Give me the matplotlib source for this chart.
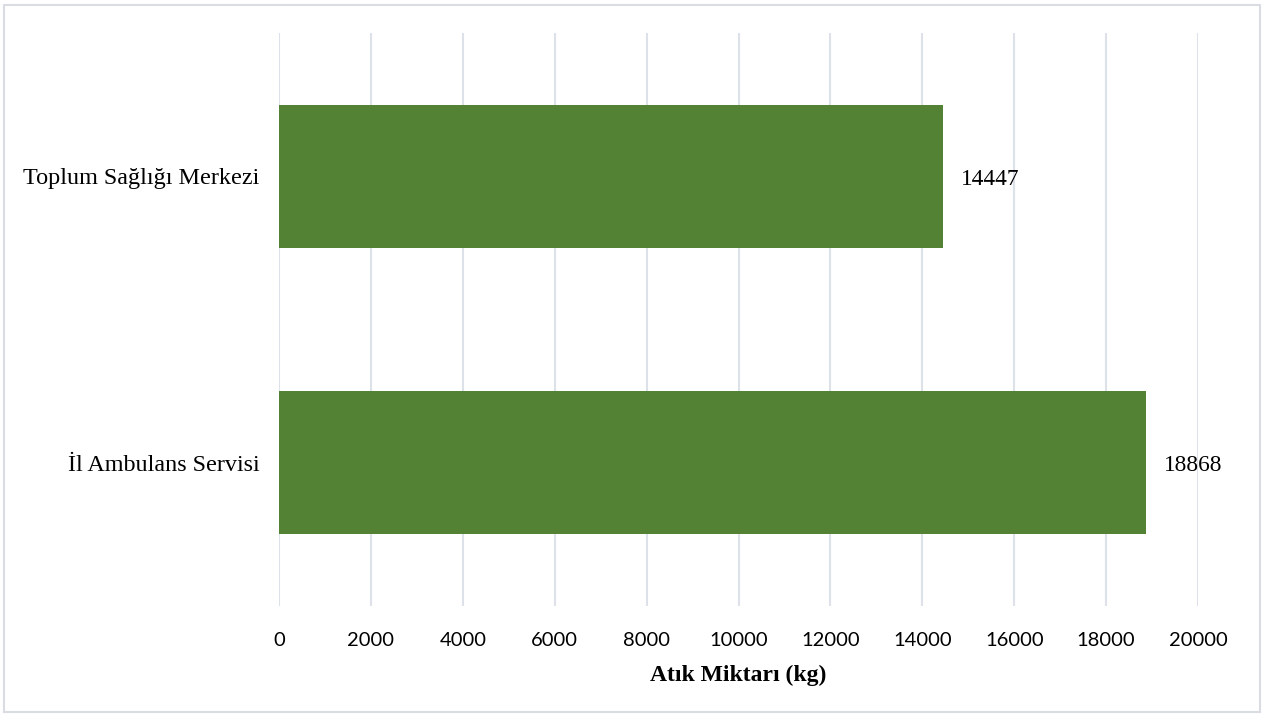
import matplotlib
matplotlib.use("Agg")
import matplotlib.pyplot as plt
from matplotlib.patches import Rectangle

# Data
categories = ["İl Ambulans Servisi", "Toplum Sağlığı Merkezi"]
values = [18868, 14447]
x_ticks = [0, 2000, 4000, 6000, 8000, 10000, 12000, 14000, 16000, 18000, 20000]
x_label = "Atık Miktarı (kg)"

bar_color = "#548235"
grid_color = "#dde1ea"
serif = ["Liberation Serif", "DejaVu Serif"]
sans = ["Lato", "Open Sans", "DejaVu Sans"]

fig = plt.figure(figsize=(12.65, 7.16), dpi=100)
ax = fig.add_axes([279 / 1265, 1 - 606 / 716, (1198 - 279) / 1265, (606 - 33) / 716])

ypos = list(range(len(categories)))
bars = ax.barh(ypos, values, height=0.5, color=bar_color, zorder=3)

ax.set_xlim(0, 20000)
ax.set_ylim(-0.5, len(categories) - 0.5)
ax.set_xticks(x_ticks)
ax.set_xticklabels([str(t) for t in x_ticks], fontfamily=sans, fontsize=14.5)
ax.set_yticks(ypos)
ax.set_yticklabels(categories, fontfamily=serif, fontsize=17.4)

ax.tick_params(axis="both", length=0)
ax.tick_params(axis="x", pad=19)
ax.tick_params(axis="y", pad=14)

ax.grid(axis="x", color=grid_color, linewidth=1.5, zorder=0)
for s in ax.spines.values():
    s.set_visible(False)

for b, v in zip(bars, values):
    ax.annotate(str(v), xy=(v, b.get_y() + b.get_height() / 2),
                xytext=(18, -3), textcoords="offset pixels",
                va="center", ha="left", fontfamily=serif, fontsize=16.8)

ax.set_xlabel(x_label, fontfamily=serif, fontsize=17, fontweight="bold", labelpad=11)

# Light frame around the whole figure
fig.patches.append(Rectangle((4 / 1265, 4 / 716), 1 - 9 / 1265, 1 - 9 / 716,
                             transform=fig.transFigure, fill=False,
                             edgecolor="#d9dde3", linewidth=1.5))

fig.savefig("out.png", dpi=100)
